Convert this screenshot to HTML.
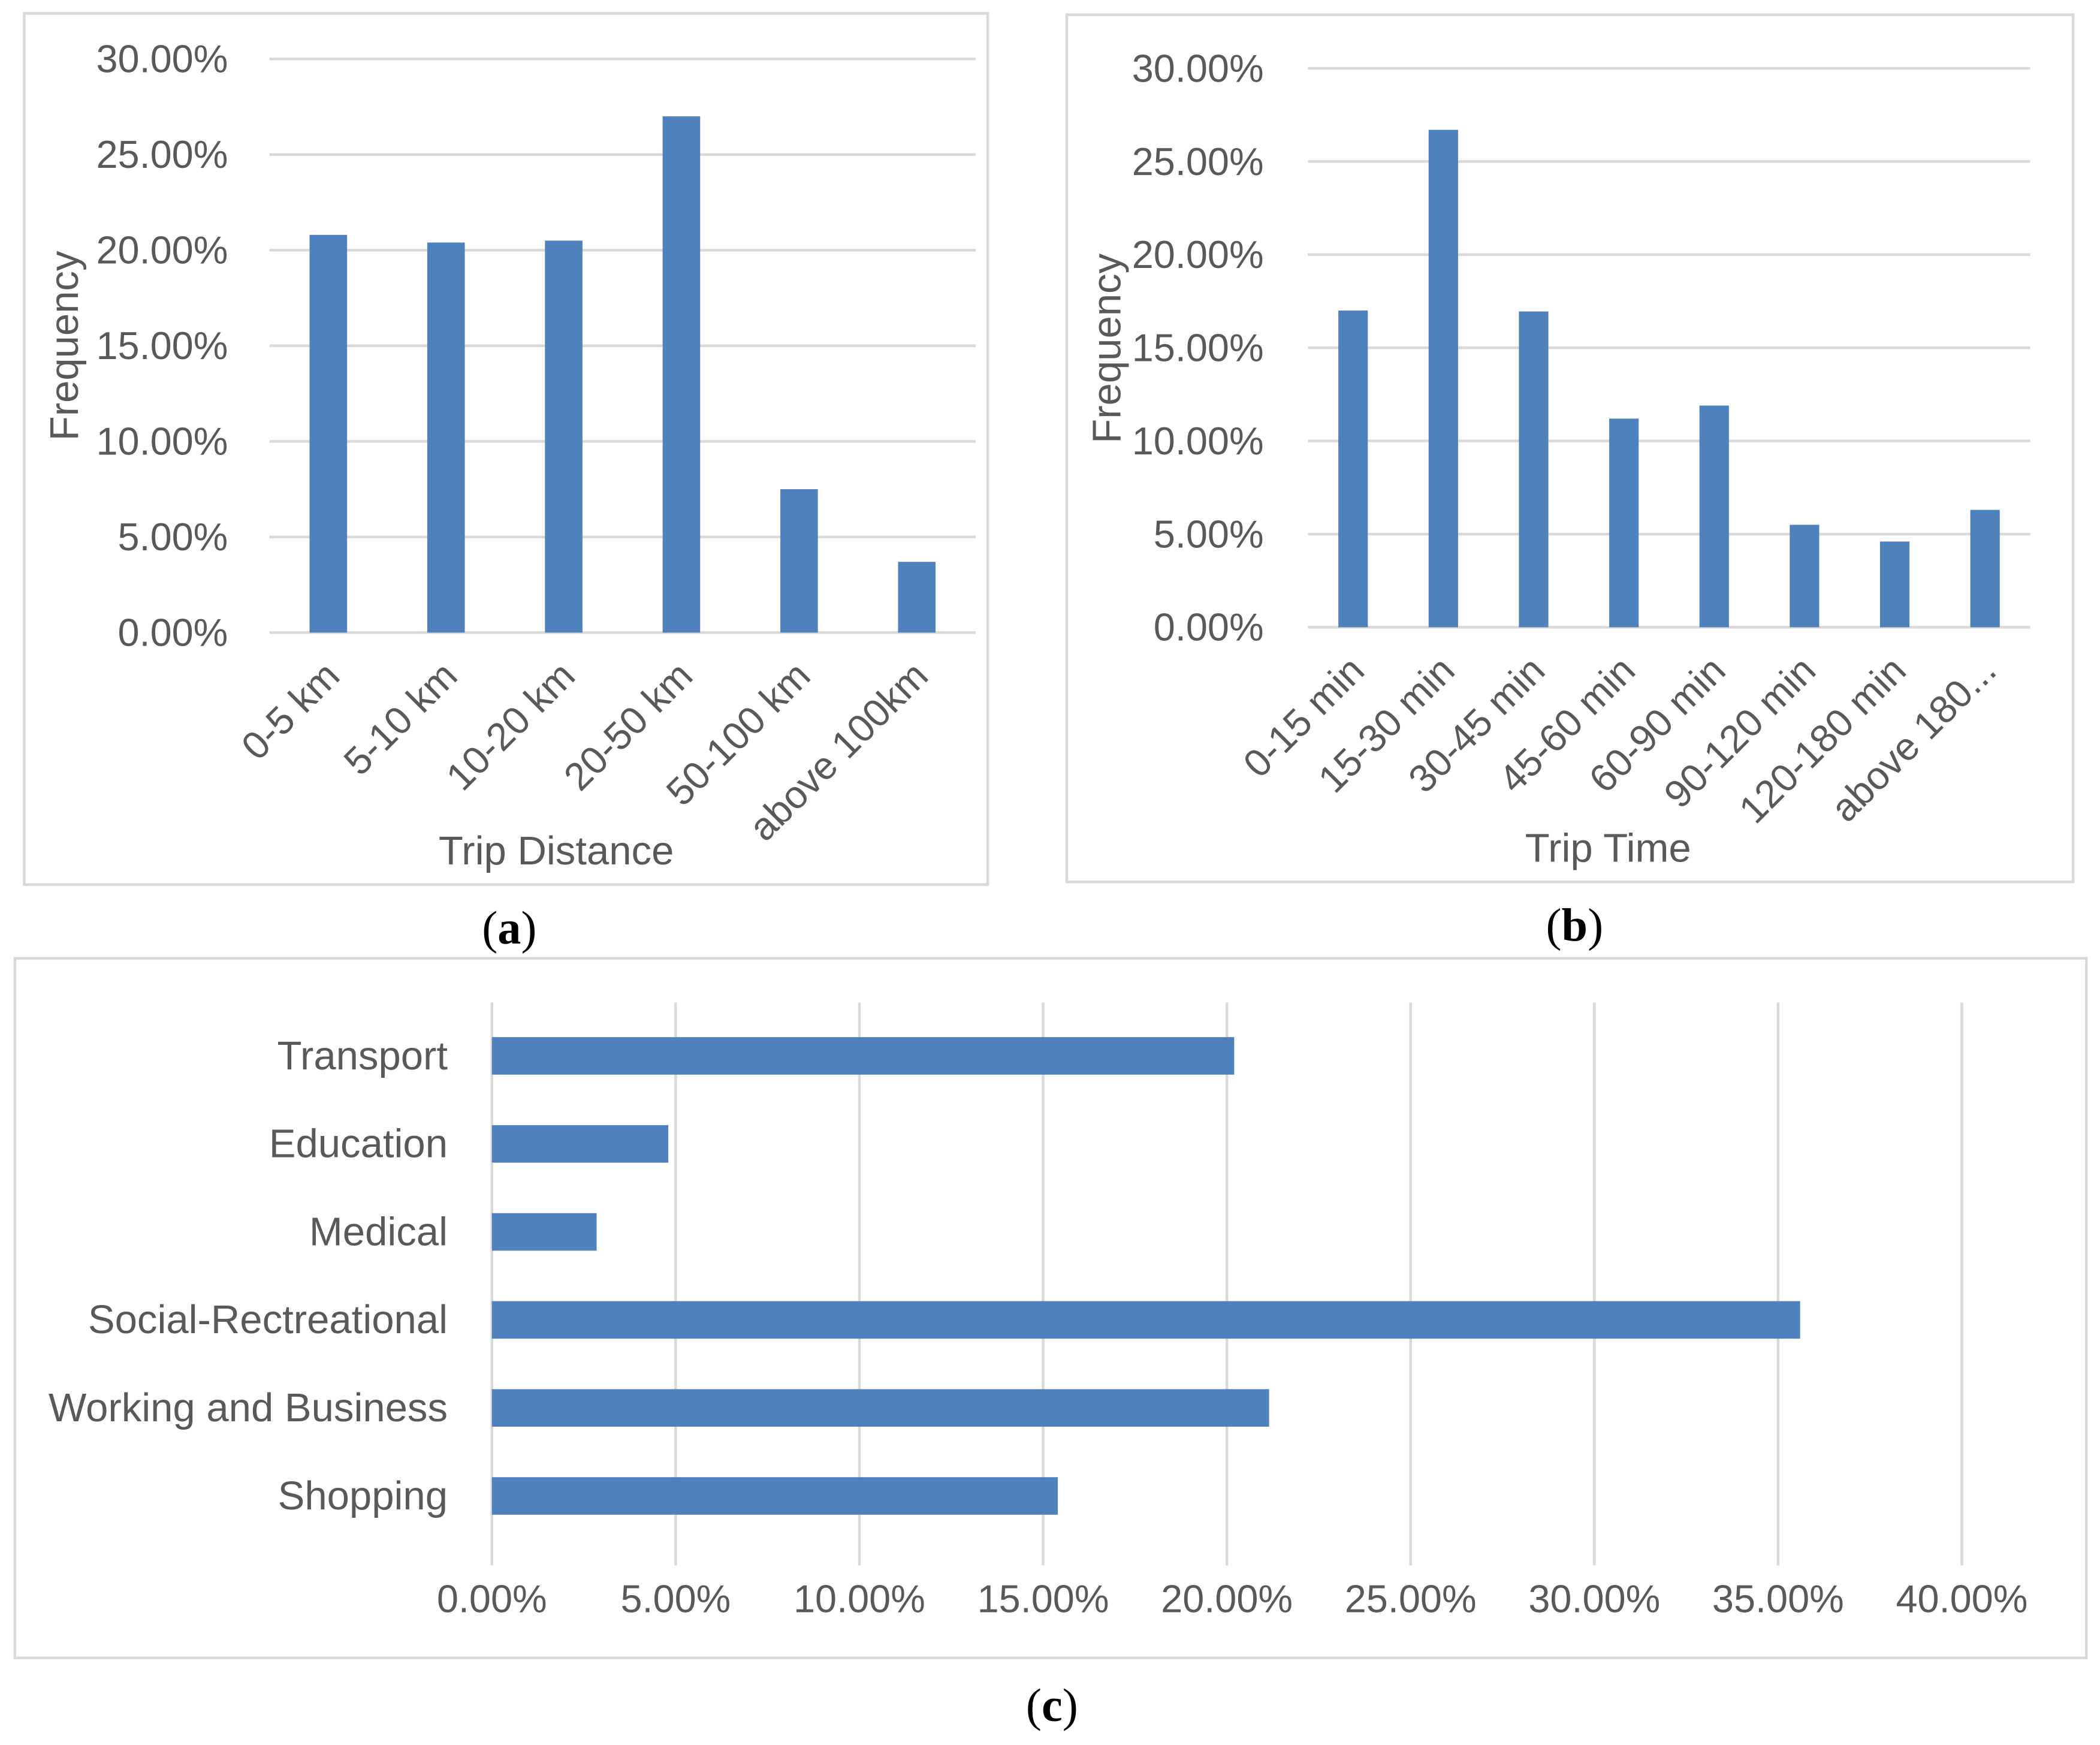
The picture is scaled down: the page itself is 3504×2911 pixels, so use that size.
<!DOCTYPE html>
<html><head><meta charset="utf-8"><style>
html,body{margin:0;padding:0;background:#fff;}
svg{display:block;}
text{font-family:"Liberation Sans",sans-serif;fill:#595959;}
.cap{font-family:"Liberation Serif",serif;fill:#000;font-size:35px;}
</style></head><body>
<svg id="fig" width="3504" height="2911" viewBox="0 0 1567 1302" xmlns="http://www.w3.org/2000/svg">
<rect x="18" y="10" width="719" height="650" fill="none" stroke="#d9d9d9" stroke-width="2"/>
<rect x="796" y="11" width="751" height="647" fill="none" stroke="#d9d9d9" stroke-width="2"/>
<rect x="11" y="715" width="1546" height="522" fill="none" stroke="#d9d9d9" stroke-width="2"/>
<g id="ga"></g>
<g id="gb"></g>
<g id="gc"></g>
<text class="cap" x="380" y="704" text-anchor="middle">(<tspan font-weight="bold">a</tspan>)</text>
<text class="cap" x="1175" y="702" text-anchor="middle">(<tspan font-weight="bold">b</tspan>)</text>
<text class="cap" x="785" y="1284" text-anchor="middle">(<tspan font-weight="bold">c</tspan>)</text>
</svg>
<script>
const catsA=["0-5 km","5-10 km","10-20 km","20-50 km","50-100 km","above 100km"];
const valsA=[20.8,20.4,20.5,27.0,7.5,3.7];
const catsB=["0-15 min","15-30 min","30-45 min","45-60 min","60-90 min","90-120 min","120-180 min","above 180..."];
const valsB=[17.0,26.7,16.95,11.2,11.9,5.5,4.6,6.3];
const catsC=["Transport","Education","Medical","Social-Rectreational","Working and Business","Shopping"];
const valsC=[20.2,4.8,2.85,35.6,21.15,15.4];
const ticksV=[0,5,10,15,20,25,30];
const ticksH=[0,5,10,15,20,25,30,35,40];
const NS="http://www.w3.org/2000/svg";
function mk(p,t,a,txt){const e=document.createElementNS(NS,t);for(const k in a)e.setAttribute(k,a[k]);if(txt!==undefined)e.textContent=txt;p.appendChild(e);return e;}
function vchart(g,cats,vals,o,px){
  const y=v=>o.y0-(v/30)*(o.y0-o.y30);
  const step=(o.x1-o.x0)/cats.length;
  ticksV.forEach(t=>{
    const l=mk(g,'line',{x1:o.x0,x2:o.x1,y1:y(t),y2:y(t),stroke:'#d9d9d9','stroke-width':2});
    
    
    const tx=mk(g,'text',{x:o.lx,y:y(t)+10,'text-anchor':'end','font-size':29},t.toFixed(2)+'%');
    
    
  });
  cats.forEach((c,i)=>{
    const cx=o.x0+step*(i+0.5);
    const r=mk(g,'rect',{x:cx-o.bw/2,y:y(vals[i]),width:o.bw,height:y(0)-y(vals[i]),fill:'#4f81bd'});
    
    
    const tx=mk(g,'text',{x:cx+10,y:o.y0+34,'text-anchor':'end','font-size':29,transform:`rotate(-45 ${cx+10} ${o.y0+34})`},c);
    
    
  });
  const ft=mk(g,'text',{x:o.fx,y:o.fy,'text-anchor':'middle','font-size':30,transform:`rotate(-90 ${o.fx} ${o.fy})`},'Frequency');
  
  
  const xt=mk(g,'text',{x:o.tx,y:o.ty,'text-anchor':'middle','font-size':30},o.title);
  
  
}
vchart(document.getElementById('ga'),catsA,valsA,{x0:201,x1:728,y0:472,y30:44,bw:28,lx:170,fx:58,fy:258,tx:415,ty:645,title:'Trip Distance'},'a');
vchart(document.getElementById('gb'),catsB,valsB,{x0:976,x1:1515,y0:468,y30:51,bw:22,lx:943,fx:836,fy:260,tx:1200,ty:643,title:'Trip Time'},'b');
(function(){
  const g=document.getElementById('gc');
  const x0=367,x40=1464,yt=748,yb=1168,bandTop=755,bandBot=1149;
  const x=v=>x0+(v/40)*(x40-x0);
  const step=(bandBot-bandTop)/catsC.length;
  ticksH.forEach(t=>{
    const l=mk(g,'line',{x1:x(t),x2:x(t),y1:yt,y2:yb,stroke:'#d9d9d9','stroke-width':2});
    
    
    const tx=mk(g,'text',{x:x(t),y:1203,'text-anchor':'middle','font-size':29},t.toFixed(2)+'%');
    
    
  });
  catsC.forEach((c,i)=>{
    const cy=bandTop+step*(i+0.5);
    const r=mk(g,'rect',{x:x0,y:cy-14,width:x(valsC[i])-x0,height:28,fill:'#4f81bd'});
    
    
    const tx=mk(g,'text',{x:334,y:cy+10,'text-anchor':'end','font-size':30},c);
    
    
  });
})();
</script>
</body></html>
